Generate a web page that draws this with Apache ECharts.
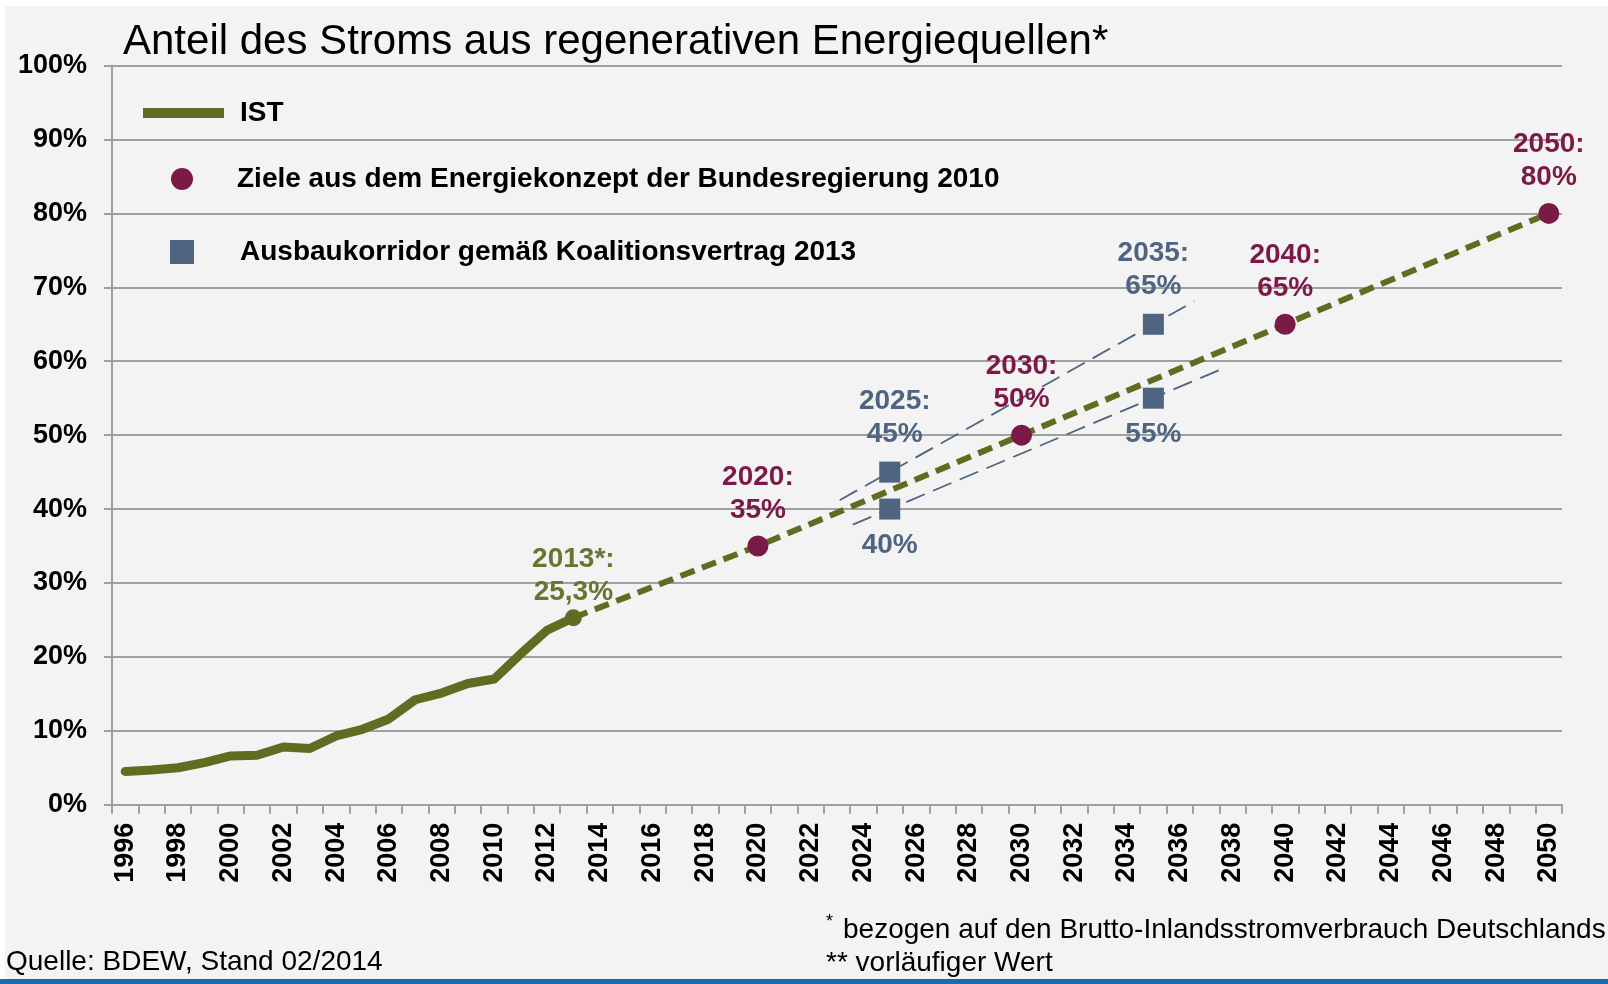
<!DOCTYPE html>
<html>
<head>
<meta charset="utf-8">
<script src="https://cdn.jsdelivr.net/npm/echarts@6/dist/echarts.min.js"></script>
<style>
html,body{margin:0;padding:0;background:#fff;}
#c{width:1608px;height:984px;}
</style>
</head>
<body>
<div id="c"></div>
<script>
// ---- data ----
const years = [];
for (let y = 1996; y <= 2050; y++) years.push(String(y));
const istYears  = [1996,1997,1998,1999,2000,2001,2002,2003,2004,2005,2006,2007,2008,2009,2010,2011,2012,2013];
const istValues = [4.5,4.7,5.0,5.7,6.6,6.7,7.8,7.6,9.3,10.2,11.6,14.2,15.1,16.4,17.0,20.4,23.6,25.3];
const projYears  = [2013,2020,2030,2040,2050];
const projValues = [25.3,35,50,65,80];
const targetYears  = [2020,2030,2040,2050];
const targetValues = [35,50,65,80];
const corrUpperYears  = [2025,2035];
const corrUpperValues = [45,65];
const corrLowerYears  = [2025,2035];
const corrLowerValues = [40,55];
const corrUpperLineX = [2023.1,2036.55];
const corrUpperLineY = [41.2,68.1];
const corrLowerLineX = [2023.6,2037.7];
const corrLowerLineY = [37.9,59.1];

const OLIVE = '#636b22', MAROON = '#7c1a47', SLATE = '#4e6480';
const FONT = "'Liberation Sans', Arial, sans-serif";
const NAME_IST = 'IST';
const NAME_T = 'Ziele aus dem Energiekonzept der Bundesregierung 2010';
const NAME_C = 'Ausbaukorridor gemäß Koalitionsvertrag 2013';

const zip = (xs, ys) => xs.map((x, i) => [x, ys[i]]);
const fmtPct = v => String(v).replace('.', ',') + '%';

const istData = zip(istYears, istValues).map((p, i, arr) => {
  if (i === arr.length - 1) {
    return {
      value: p, symbol: 'circle', symbolSize: 17,
      label: {
        show: true, position: 'top', distance: 0,
        formatter: p[0] + '*:\n' + fmtPct(p[1]),
        color: '#6b7330', fontSize: 28, fontWeight: 'bold', fontFamily: FONT, lineHeight: 33
      }
    };
  }
  return { value: p };
});

const labelBase = { fontSize: 28, fontWeight: 'bold', fontFamily: FONT, lineHeight: 33 };

const chart = echarts.init(document.getElementById('c'), null, { renderer: 'canvas' });
chart.setOption({
  backgroundColor: '#f3f3f3',
  animation: false,
  title: {
    text: 'Anteil des Stroms aus regenerativen Energiequellen*',
    left: 123, top: 18, padding: 0,
    textStyle: { fontSize: 42, fontWeight: 'normal', color: '#000', fontFamily: FONT, lineHeight: 48 }
  },
  legend: [
    {
      data: [{ name: NAME_IST, icon: 'rect', itemStyle: { color: OLIVE } }],
      left: 143, top: 93, padding: 0, itemWidth: 81, itemHeight: 10, selectedMode: false,
      textStyle: { fontSize: 28, fontWeight: 'bold', color: '#000', fontFamily: FONT, lineHeight: 30, padding: [10, 0, 0, 11] }
    },
    {
      data: [{ name: NAME_T, icon: 'circle', itemStyle: { color: MAROON } }],
      left: 171, top: 159, padding: 0, itemWidth: 22, itemHeight: 22, selectedMode: false,
      textStyle: { fontSize: 28, fontWeight: 'bold', color: '#000', fontFamily: FONT, lineHeight: 30, padding: [10, 0, 0, 39] }
    },
    {
      data: [{ name: NAME_C, icon: 'rect', itemStyle: { color: SLATE } }],
      left: 170, top: 234, padding: 0, itemWidth: 24, itemHeight: 24, selectedMode: false,
      textStyle: { fontSize: 28, fontWeight: 'bold', color: '#000', fontFamily: FONT, lineHeight: 30, padding: [6, 0, 0, 41] }
    }
  ],
  grid: { left: 112, right: 46, top: 65.6, bottom: 179.3 },
  xAxis: [
    {
      type: 'category', data: years, boundaryGap: true,
      axisLine: { show: true, lineStyle: { color: '#a0a0a0', width: 2 } },
      axisTick: { show: true, interval: 0, length: 9, lineStyle: { color: '#a0a0a0', width: 2 } },
      axisLabel: { interval: 1, rotate: 90, margin: 18, fontSize: 27, fontWeight: 'bold', color: '#000', fontFamily: FONT },
      splitLine: { show: false }
    },
    {
      type: 'value', min: 1995.5, max: 2050.5, show: false, splitLine: { show: false }
    }
  ],
  yAxis: {
    type: 'value', min: 0, max: 100, interval: 10,
    axisLine: { show: true, lineStyle: { color: '#a0a0a0', width: 2 } },
    axisTick: { show: true, length: 8, inside: false, lineStyle: { color: '#a0a0a0', width: 2 } },
    axisLabel: { formatter: '{value}%', margin: 25, fontSize: 27, fontWeight: 'bold', color: '#000', fontFamily: FONT },
    splitLine: { show: true, lineStyle: { color: '#a0a0a0', width: 2 } }
  },
  series: [
    {
      name: 'Prognose', type: 'line', xAxisIndex: 1, z: 2,
      data: zip(projYears, projValues), symbol: 'none',
      lineStyle: { color: OLIVE, width: 6, type: [15, 8] }
    },
    {
      name: 'KorridorOben', type: 'line', xAxisIndex: 1, z: 2,
      data: zip(corrUpperLineX, corrUpperLineY), symbol: 'none',
      lineStyle: { color: SLATE, width: 1.8, type: [20, 9] }
    },
    {
      name: 'KorridorUnten', type: 'line', xAxisIndex: 1, z: 2,
      data: zip(corrLowerLineX, corrLowerLineY), symbol: 'none',
      lineStyle: { color: SLATE, width: 1.8, type: [20, 9] }
    },
    {
      name: NAME_IST, type: 'line', xAxisIndex: 1, z: 4,
      data: istData, symbol: 'none', showSymbol: true,
      itemStyle: { color: OLIVE },
      lineStyle: { color: OLIVE, width: 9, join: 'round', cap: 'round' }
    },
    {
      name: NAME_T, type: 'scatter', xAxisIndex: 1, z: 5,
      data: zip(targetYears, targetValues), symbol: 'circle', symbolSize: 21,
      itemStyle: { color: MAROON, opacity: 1 },
      label: Object.assign({
        show: true, position: 'top', distance: 9, color: MAROON,
        formatter: p => p.value[0] + ':\n' + fmtPct(p.value[1])
      }, labelBase)
    },
    {
      name: NAME_C, type: 'scatter', xAxisIndex: 1, z: 5,
      data: zip(corrUpperYears, corrUpperValues).map((p, i) => ({
        value: p, label: { offset: [i === 0 ? 5 : 0, 0] }
      })),
      symbol: 'rect', symbolSize: 21,
      itemStyle: { color: SLATE, opacity: 1 },
      label: Object.assign({
        show: true, position: 'top', distance: 11, color: SLATE,
        formatter: p => p.value[0] + ':\n' + fmtPct(p.value[1])
      }, labelBase)
    },
    {
      name: NAME_C, type: 'scatter', xAxisIndex: 1, z: 5,
      data: zip(corrLowerYears, corrLowerValues), symbol: 'rect', symbolSize: 21,
      itemStyle: { color: SLATE, opacity: 1 },
      label: Object.assign({
        show: true, position: 'bottom', distance: 9, color: SLATE,
        formatter: p => fmtPct(p.value[1])
      }, labelBase)
    }
  ],
  graphic: [
    { type: 'rect', left: 0, top: 0, shape: { width: 1608, height: 6 }, style: { fill: '#ffffff' }, silent: true },
    { type: 'rect', left: 0, top: 0, shape: { width: 5, height: 984 }, style: { fill: '#ffffff' }, silent: true },
    { type: 'rect', left: 0, top: 979, shape: { width: 1608, height: 5 }, style: { fill: '#1b6bb3' }, silent: true },
    { type: 'text', x: 6, y: 962.5, style: { text: 'Quelle: BDEW, Stand 02/2014', fill: '#000', font: "28px 'Liberation Sans', Arial, sans-serif", verticalAlign: 'middle', align: 'left' } },
    { type: 'text', x: 826, y: 922, style: { text: '*', fill: '#000', font: "18px 'Liberation Sans', Arial, sans-serif", verticalAlign: 'middle', align: 'left' } },
    { type: 'text', x: 843, y: 930, style: { text: 'bezogen auf den Brutto-Inlandsstromverbrauch Deutschlands', fill: '#000', font: "28px 'Liberation Sans', Arial, sans-serif", verticalAlign: 'middle', align: 'left' } },
    { type: 'text', x: 826, y: 963, style: { text: '** vorläufiger Wert', fill: '#000', font: "28px 'Liberation Sans', Arial, sans-serif", verticalAlign: 'middle', align: 'left' } }
  ]
});
</script>
</body>
</html>
